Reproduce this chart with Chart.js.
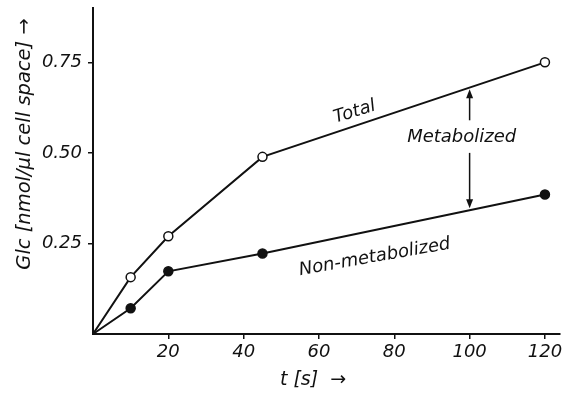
<!DOCTYPE html>
<html>
<head>
<meta charset="utf-8">
<script src="https://cdn.jsdelivr.net/npm/chart.js@4/dist/chart.umd.min.js"></script>
<style>
html,body{margin:0;padding:0;background:#fff;}
#wrap{width:569px;height:393px;}
</style>
</head>
<body>
<div id="wrap"><canvas id="c" width="569" height="393"></canvas></div>
<script>
// ---- data ----
const timesTotal = [0, 10, 20, 45, 120];
const valuesTotal = [0, 0.157, 0.27, 0.489, 0.75];
const timesNonMetab = [0, 10, 20, 45, 120];
const valuesNonMetab = [0, 0.071, 0.173, 0.222, 0.385];
const xTicks = [20, 40, 60, 80, 100, 120];
const yTicks = [0.25, 0.50, 0.75];
const xTitle = 't [s]  \u2192';
const yTitle = 'Glc [nmol/\u00b5l cell space] \u2192';
// text labels: [text, t, value, angleDeg]
const labelTexts = ['Total', 'Metabolized', 'Non-metabolized'];
const labelT = [69.5, 97.9, 74.8];
const labelV = [0.613, 0.544, 0.212];
const labelAngle = [-17, 0, -10];
// arrows: at t, from value to value (tip)
const arrowT = [100, 100];
const arrowFrom = [0.59, 0.50];
const arrowTo = [0.676, 0.347];

const FONT = '"DejaVu Sans", sans-serif';
const toPts = (xs, ys) => xs.map((x, i) => ({x: x, y: ys[i]}));

const annot = {
  id: 'annot',
  afterDraw(chart) {
    const ctx = chart.ctx;
    const xs = chart.scales.x, ys = chart.scales.y;
    ctx.save();
    ctx.fillStyle = '#111';
    ctx.strokeStyle = '#111';
    ctx.font = 'italic 18px ' + FONT;
    ctx.textAlign = 'center';
    ctx.textBaseline = 'middle';
    labelTexts.forEach((t, i) => {
      ctx.save();
      ctx.translate(xs.getPixelForValue(labelT[i]), ys.getPixelForValue(labelV[i]));
      ctx.rotate(labelAngle[i] * Math.PI / 180);
      ctx.fillText(t, 0, 0);
      ctx.restore();
    });
    // arrows
    ctx.lineWidth = 1.5;
    arrowT.forEach((t, i) => {
      const x = xs.getPixelForValue(t);
      const y0 = ys.getPixelForValue(arrowFrom[i]);
      const y1 = ys.getPixelForValue(arrowTo[i]);
      const dir = y1 < y0 ? -1 : 1;
      ctx.beginPath();
      ctx.moveTo(x, y0);
      ctx.lineTo(x, y1 - dir * 6);
      ctx.stroke();
      ctx.beginPath();
      ctx.moveTo(x, y1);
      ctx.lineTo(x - 3.5, y1 - dir * 9);
      ctx.lineTo(x + 3.5, y1 - dir * 9);
      ctx.closePath();
      ctx.fill();
    });
    // axis titles
    ctx.font = 'italic 19px ' + FONT;
    ctx.fillText(xTitle, 313, 380);
    ctx.save();
    ctx.translate(25, 144);
    ctx.rotate(-Math.PI / 2);
    ctx.font = 'italic 19.5px ' + FONT;
    ctx.fillText(yTitle, 0, 0);
    ctx.restore();
    ctx.restore();
  }
};

const common = {
  showLine: true,
  borderColor: '#111',
  borderWidth: 2,
  tension: 0,
  pointBorderColor: '#111',
  pointBorderWidth: 1.5,
  pointRadius: c => (c.raw && c.raw.x === 0 ? 0 : 4.5),
  pointHoverRadius: c => (c.raw && c.raw.x === 0 ? 0 : 4.5),
  clip: false
};

new Chart(document.getElementById('c'), {
  type: 'scatter',
  data: {
    datasets: [
      Object.assign({label: 'Total', data: toPts(timesTotal, valuesTotal), pointBackgroundColor: '#fff'}, common),
      Object.assign({label: 'Non-metabolized', data: toPts(timesNonMetab, valuesNonMetab), pointBackgroundColor: '#111'}, common)
    ]
  },
  options: {
    responsive: false,
    animation: false,
    devicePixelRatio: 1,
    layout: {padding: {top: 8, right: 9, left: 0, bottom: 0}},
    plugins: {legend: {display: false}, tooltip: {enabled: false}},
    scales: {
      x: {
        type: 'linear', min: 0, max: 124,
        afterBuildTicks: s => { s.ticks = xTicks.map(v => ({value: v})); },
        afterFit: s => { s.height = 59; s.paddingLeft = 0; s.paddingRight = 0; },
        border: {display: true, color: '#111', width: 2},
        grid: {drawOnChartArea: false, color: '#111', lineWidth: 1.5, tickLength: 5},
        ticks: {color: '#111', font: {family: FONT, size: 18, style: 'italic'}, padding: 3, maxRotation: 0,
                callback: v => String(v)}
      },
      y: {
        type: 'linear', min: 0, max: 0.9,
        afterBuildTicks: s => { s.ticks = yTicks.map(v => ({value: v})); },
        afterFit: s => { s.width = 93; s.paddingTop = 0; s.paddingBottom = 0; },
        border: {display: true, color: '#111', width: 2},
        grid: {drawOnChartArea: false, color: '#111', lineWidth: 1.5, tickLength: 5},
        ticks: {color: '#111', font: {family: FONT, size: 18, style: 'italic'}, padding: 6,
                callback: v => v.toFixed(2)}
      }
    }
  },
  plugins: [annot]
});
</script>
</body>
</html>
